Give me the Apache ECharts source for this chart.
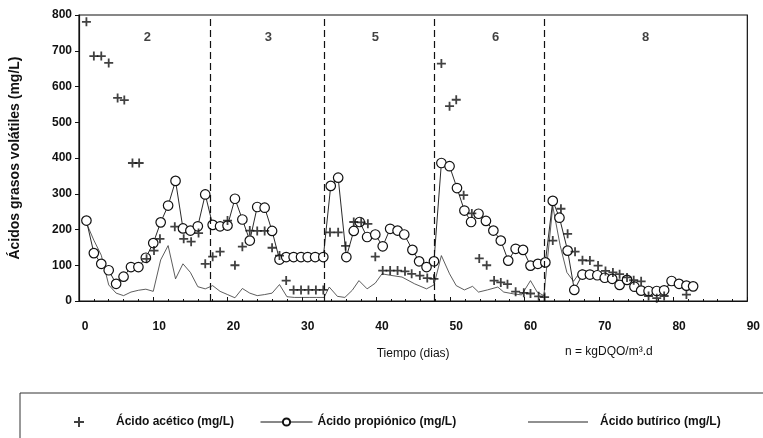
<!DOCTYPE html>
<html>
<head>
<meta charset="utf-8">
<script src="https://cdn.jsdelivr.net/npm/echarts@6/dist/echarts.min.js"></script>
<style>
    html, body { margin: 0; padding: 0; background: #fff; }
    #agv_chart { width: 763px; height: 438px; }
</style>
</head>
<body>
<div id="agv_chart"></div>
<script>
    // Ácido acético (mg/L)
    var aceticDays = [1, 2, 3, 4, 5.2, 6.1, 7.2, 8.1, 9.1, 10.1, 10.9, 12.9, 14.1, 15.1, 16.1, 17, 18, 19, 20, 21, 22, 23, 24, 25, 26, 27,
        27.9, 28.9, 29.9, 30.9, 31.9, 32.9, 33.8, 34.9, 35.9, 37, 38, 38.9, 39.9, 40.9, 41.9, 42.9, 43.9, 44.8, 45.9, 46.9, 47.8,
        48.8, 49.9, 50.8, 51.8, 52.9, 53.9, 54.9, 55.9, 56.8, 57.7, 58.8, 59.9, 60.8, 61.9, 62.7,
        63.8, 64.9, 65.8, 66.8, 67.8, 68.8, 69.9, 70.9, 71.9, 72.8, 73.8, 74.7, 75.7, 76.7, 77.8, 78.8, 81.8];
    var aceticVals = [781, 685, 685, 666, 568, 562, 386, 386, 118, 141, 174, 208, 174, 166, 190, 104, 124, 138, 225, 100, 152, 197, 196, 196, 149, 127,
        57, 31, 31, 31, 31, 31, 192, 192, 154, 221, 220, 216, 124, 85, 85, 85, 83, 76, 71, 64, 62,
        664, 545, 563, 296, 245, 119, 100, 57, 52, 47, 26, 23, 21, 13, 11,
        169, 258, 188, 138, 114, 113, 99, 84, 80, 75, 66, 58, 55, 14, 8, 14, 18];

    // Ácido propiónico (mg/L)
    var propDays = [1, 2, 3, 4, 5, 6, 7, 8, 9, 10, 11, 12, 13, 14, 15, 16, 17, 18, 19, 20, 21, 22, 23, 24, 25, 26, 27,
        27.9, 28.9, 29.9, 30.8, 31.8, 32.9, 33.9, 34.9, 36, 37, 37.8, 38.8, 39.9, 40.9, 41.9, 42.9, 43.8, 44.9, 45.8, 46.8, 47.8,
        48.8, 49.9, 50.9, 51.9, 52.8, 53.8, 54.8, 55.8, 56.8, 57.8, 58.8, 59.8, 60.8, 61.8, 62.8,
        63.8, 64.7, 65.8, 66.7, 67.8, 68.8, 69.8, 70.8, 71.8, 72.8, 73.8, 74.8, 75.7, 76.7, 77.8, 78.8, 79.8, 80.8, 81.8, 82.7];
    var propVals = [225, 134, 104, 86, 48, 68, 95, 95, 121, 162, 220, 267, 336, 203, 197, 209, 298, 213, 209, 211, 286, 228, 169, 263, 261, 196, 116,
        123, 123, 123, 123, 123, 123, 322, 345, 123, 196, 221, 179, 186, 153, 202, 197, 186, 143, 111, 95, 111,
        386, 377, 316, 253, 221, 244, 224, 197, 169, 113, 146, 143, 99, 104, 108,
        280, 233, 141, 31, 74, 74, 72, 65, 62, 45, 59, 40, 29, 28, 28, 30, 56, 48, 43, 41];

    // Ácido butírico (mg/L)
    var butDays = [1, 2, 3, 4, 5, 6, 7, 8, 9, 10, 11, 12, 13, 14, 15, 16, 17, 18, 19, 20, 21, 22, 23, 24, 25, 26, 27, 28,
        29, 30, 31, 32, 33, 33.7, 34.8, 35.8, 36.8, 37.7, 38.8, 39.9, 40.8, 41.9, 43.5, 45.2, 46.8, 47.8,
        48.8, 49.9, 50.8, 51.9, 53, 53.8, 55, 56.4, 57.2, 58.5, 59.6, 60.8, 61.7, 62.6,
        63.8, 64.8, 65.7, 66.6, 67.7, 68.8, 69.8, 70.8, 71.8, 72.8, 73.8, 74.8, 75.7, 76.7, 77.8, 78.8, 79.8, 80.8, 81.8, 82.7];
    var butVals = [218, 170, 128, 45, 22, 15, 25, 30, 33, 27, 115, 155, 62, 104, 80, 40, 34, 43, 27, 18, 9, 35, 22, 15, 18, 22, 46, 12,
        10, 10, 10, 10, 10, 39, 13, 10, 30, 57, 34, 50, 76, 72, 67, 48, 34, 45,
        127, 76, 43, 31, 41, 25, 31, 39, 25, 20, 17, 57, 25, 15,
        265, 155, 80, 55, 88, 80, 75, 70, 64, 58, 55, 45, 35, 30, 28, 30, 52, 45, 40, 38];

    // carga orgánica por etapa (n = kgDQO/m3.d)
    var stageNames = ['2', '3', '5', '6', '8'];
    var stageMid = [9.2, 25.5, 39.9, 56.1, 76.3];
    var stageLabelY = 738;
    var stageBounds = [17.7, 33.0, 47.8, 62.6];

    var xTicks = [0, 90, 10];
    var yTicks = [0, 800, 100];

    function pairs(d, v) {
        return d.map(function (x, i) { return [x, v[i]]; });
    }

    var plusPath = 'path://M4,0H6V4H10V6H6V10H4V6H0V4H4Z';
    var ink = '#111';

    var option = {
        animation: false,
        backgroundColor: '#fff',
        grid: {
            left: 74, right: 15, top: 15, bottom: 137,
            show: true,
            borderColor: ink,
            borderWidth: 1.2
        },
        xAxis: {
            type: 'value',
            min: xTicks[0], max: xTicks[1], interval: xTicks[2],
            name: 'Tiempo (dias)',
            nameLocation: 'middle',
            nameGap: 47,
            nameTextStyle: { color: ink, fontSize: 12, fontFamily: 'Liberation Sans Narrow, Liberation Sans' },
            axisLine: { lineStyle: { color: ink, width: 1.2 } },
            axisTick: { inside: true, length: 4, lineStyle: { color: ink } },
            minorTick: { show: true, splitNumber: 5, length: 2, lineStyle: { color: ink } },
            splitLine: { show: false },
            axisLabel: {
                color: ink, fontSize: 12, fontWeight: 'bold',
                fontFamily: 'Liberation Sans Narrow, Liberation Sans',
                margin: 20, padding: [0, 0, 0, 12]
            }
        },
        yAxis: {
            type: 'value',
            min: yTicks[0], max: yTicks[1], interval: yTicks[2],
            name: 'Ácidos grasos volátiles (mg/L)',
            nameLocation: 'middle',
            nameGap: 57,
            nameTextStyle: { color: ink, fontSize: 14, fontWeight: 'bold', fontFamily: 'Liberation Sans' },
            axisLine: { show: true, lineStyle: { color: ink, width: 1.2 } },
            axisTick: { show: true, length: 4, lineStyle: { color: ink } },
            splitLine: { show: false },
            axisLabel: { color: ink, fontSize: 12, fontWeight: 'bold', fontFamily: 'Liberation Sans', margin: 7 }
        },
        legend: [
            {
                left: 69, top: 411,
                itemWidth: 10, itemHeight: 10,
                data: [{ name: 'Ácido acético (mg/L)', icon: plusPath }],
                textStyle: { color: ink, fontSize: 12, fontWeight: 'bold', fontFamily: 'Liberation Sans', padding: [0, 0, 0, 27] }
            },
            {
                left: 255, top: 411,
                itemWidth: 52, itemHeight: 9,
                lineStyle: { width: 1 },
                data: ['Ácido propiónico (mg/L)'],
                textStyle: { color: ink, fontSize: 12, fontWeight: 'bold', fontFamily: 'Liberation Sans' }
            },
            {
                left: 523, top: 411,
                itemWidth: 60, itemHeight: 10,
                data: [{ name: 'Ácido butírico (mg/L)', icon: 'path://M0,4.5H60V5.5H0Z' }],
                itemStyle: { color: '#222' },
                textStyle: { color: ink, fontSize: 12, fontWeight: 'bold', fontFamily: 'Liberation Sans', padding: [0, 0, 0, 7] }
            }
        ],
        graphic: [
            {
                type: 'rect',
                shape: { x: 20, y: 393, width: 800, height: 80 },
                style: { fill: 'none', stroke: '#333', lineWidth: 1 },
                silent: true
            },
            {
                type: 'text',
                left: 565, top: 346,
                style: { text: 'n = kgDQO/m³.d', fill: ink, font: '12px "Liberation Sans Narrow", "Liberation Sans"' },
                silent: true
            }
        ],
        series: [
            {
                name: 'Ácido butírico (mg/L)',
                type: 'line',
                symbol: 'none',
                lineStyle: { color: '#333', width: 0.8 },
                itemStyle: { color: '#333' },
                z: 2,
                data: pairs(butDays, butVals)
            },
            {
                name: 'Ácido propiónico (mg/L)',
                type: 'line',
                symbol: 'circle',
                symbolSize: 9.5,
                lineStyle: { color: ink, width: 0.9 },
                itemStyle: { color: '#fff', borderColor: ink, borderWidth: 1.2 },
                z: 3,
                data: pairs(propDays, propVals)
            },
            {
                name: 'Ácido acético (mg/L)',
                type: 'scatter',
                symbol: plusPath,
                symbolSize: 9,
                itemStyle: { color: ink },
                z: 4,
                data: pairs(aceticDays, aceticVals)
            },
            {
                name: 'etapas',
                type: 'scatter',
                symbolSize: 0,
                silent: true,
                data: stageMid.map(function (x) { return [x, stageLabelY]; }),
                label: {
                    show: true,
                    position: 'inside',
                    color: ink, fontSize: 13, fontWeight: 'bold', fontFamily: 'Liberation Sans',
                    formatter: function (p) { return stageNames[p.dataIndex]; }
                },
                markLine: {
                    silent: true,
                    symbol: ['none', 'none'],
                    label: { show: false },
                    lineStyle: { color: ink, type: [7, 4], width: 1.2 },
                    data: stageBounds.map(function (b) { return { xAxis: b }; })
                }
            }
        ]
    };

    var chart = echarts.init(document.getElementById('agv_chart'));
    chart.setOption(option);
    window.addEventListener('resize', function () {
        chart.resize();
    });
</script>
</body>
</html>
